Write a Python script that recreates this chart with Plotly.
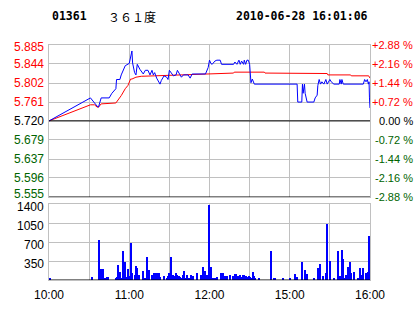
import plotly.graph_objects as go

# ---------------- data ----------------
base_price = 5.72
price_ticks = [5.555, 5.596, 5.637, 5.679, 5.720, 5.761, 5.802, 5.844, 5.885]
price_labels = ["5.555", "5.596", "5.637", "5.679", "5.720", "5.761", "5.802", "5.844", "5.885"]
pct_labels = ["-2.88 %", "-2.16 %", "-1.44 %", "-0.72 %", "0.00 %",
              "+0.72 %", "+1.44 %", "+2.16 %", "+2.88 %"]
vol_ticks = [350, 700, 1050, 1400]
vol_labels = ["350", "700", "1050", "1400"]
# session minutes: 10:00-12:30 -> 0..150, 14:30-16:00 -> 150..240
time_grid = [0, 30, 60, 90, 120, 150, 180, 210, 240]
time_labels = ["10:00", "", "11:00", "", "12:00", "", "15:00", "", "16:00"]

# last price (session minute, price)
blue_min = [0, 31, 36, 37, 39, 45, 47, 50, 50.5, 53, 54, 55.5, 57, 60, 61, 62, 62.5, 64, 65, 66,
            68, 70.5, 72, 74, 75.5, 77, 78, 79, 80.5, 83, 84, 86, 88, 89, 90, 92, 93, 95, 96, 98,
            99, 100.5, 104, 105.5, 107, 117, 119, 120, 121, 122, 124, 125.5, 128, 129, 138, 139,
            140.5, 142, 143, 144, 145.5, 146, 147, 148, 149, 150, 150.5, 151, 152, 153.5, 185.5,
            186, 189, 189.5, 190, 191, 191.5, 192, 193, 198, 199, 200.5, 201, 202, 203, 204, 205.5,
            207, 208, 210, 211, 213, 217, 217.5, 218.5, 219, 220, 235, 236, 237, 238, 238.8, 239.3,
            239.6, 240]
blue_px = [5.72, 5.77, 5.752, 5.75, 5.77, 5.77, 5.78, 5.79, 5.81, 5.81, 5.82, 5.83, 5.84, 5.845,
           5.86, 5.872, 5.846, 5.825, 5.82, 5.843, 5.832, 5.822, 5.83, 5.83, 5.82, 5.83, 5.82,
           5.825, 5.813, 5.80, 5.808, 5.818, 5.815, 5.81, 5.83, 5.82, 5.818, 5.82, 5.83, 5.82,
           5.815, 5.82, 5.82, 5.813, 5.822, 5.822, 5.836, 5.852, 5.845, 5.843, 5.85, 5.852, 5.852,
           5.843, 5.843, 5.848, 5.843, 5.852, 5.843, 5.85, 5.843, 5.852, 5.843, 5.852, 5.852,
           5.843, 5.808, 5.803, 5.811, 5.80, 5.80, 5.761, 5.761, 5.80, 5.78, 5.80, 5.78, 5.77,
           5.761, 5.761, 5.77, 5.776, 5.797, 5.81, 5.80, 5.805, 5.80, 5.81, 5.80, 5.81, 5.805,
           5.80, 5.80, 5.81, 5.80, 5.81, 5.80, 5.80, 5.81, 5.805, 5.81, 5.80, 5.805, 5.77, 5.748]

# average price
red_min = [0, 31, 34, 36, 37, 39, 50, 52, 54, 57, 59, 61, 62, 65, 69, 79, 118, 119, 138, 138.5,
           161, 161.5, 190.5, 191, 208, 208.5, 225.5, 226, 239, 240]
red_px = [5.72, 5.755, 5.755, 5.75, 5.75, 5.757, 5.759, 5.766, 5.775, 5.79, 5.797, 5.811, 5.811,
          5.815, 5.817, 5.818, 5.822, 5.823, 5.824, 5.826, 5.826, 5.824, 5.824, 5.823, 5.823,
          5.82, 5.82, 5.818, 5.818, 5.813]

# volume (session minute, volume)
vol_min = [1, 32, 37.5, 38.5, 39, 40.5, 42, 43.5, 44.5, 50, 50.5, 51.5, 52.3, 53, 54, 55.5, 56.3,
           57, 57.7, 59, 59.6, 60.4, 61.5, 62.3, 64.5, 65.3, 66, 67.5, 70.5, 72, 73.5, 75, 77.3,
           78, 78.7, 79.5,
           80.3, 81, 82.5, 83.3, 86.3, 88.5, 89.3, 90, 90.8, 91.5, 92.3, 93, 93.8, 94.5, 95.3, 96,
           96.8, 97.5, 98.3, 99, 100.5, 101.3, 102, 103.5, 105, 106.5, 107.3, 108, 111, 113.3,
           115.5, 116.3, 117, 118.5, 119.3, 120, 121.5, 123, 123.8, 125.3, 128.3, 129, 129.8,
           130.5, 131.3, 132, 132.8, 135, 137.3, 138, 138.8, 139.5, 140.3, 141, 142.5, 144, 144.8,
           145.5, 147, 147.8, 149.3, 150, 150.8, 152.3, 153, 153.8, 156.8,
           165.8, 168.2, 169.3, 175.3, 180.2, 184.3, 185.8, 189.5, 191.3, 192.8, 198.2, 201.2,
           202.3, 204.8, 206.8, 207.8, 209.8, 213.2, 216.2, 217.3, 219.2, 220, 221.5, 222.2,
           223.3, 224.3, 225.2, 226, 227.8, 231.2, 232.3, 233.8, 234.8, 236.8, 237.8, 238.6,
           239.4, 240]
vol_val = [42, 60, 735, 60, 203, 203, 42, 60, 60, 42, 60, 275, 60, 150, 42, 527, 96, 330, 60, 203,
           78, 60, 688, 132, 96, 257, 221, 96, 167, 42, 418, 185, 96, 60, 132, 132,
           132, 132, 132, 60, 78, 42, 78, 132, 60, 418, 60, 96, 60, 78, 132, 96, 78, 78, 60, 42,
           96, 167, 42, 96, 42, 96, 60, 78, 132, 96, 240, 60, 167, 96, 1376, 96, 240, 42, 42, 60,
           132, 78, 132, 60, 78, 42, 78, 96, 78, 42, 114, 114, 60, 78, 96, 60, 96, 96, 78, 60, 78,
           60, 42, 150, 78, 42, 42,
           527, 42, 42, 42, 42, 114, 60, 330, 185, 114, 42, 221, 293, 78, 132, 1030, 347, 42, 527,
           78, 545, 383, 42, 96, 240, 60, 330, 132, 150, 42, 221, 96, 221, 132, 60, 150, 815, 510]

stock_code = "01361"
stock_name = "３６１度"
timestamp = "2010-06-28 16:01:06"

# ---------------- styling ----------------
GRID = "#C0C0C0"
RED = "#FF0000"
GREEN = "#006400"
BLUE = "#0000FF"
FONT = "Liberation Sans, Arial, sans-serif"
W, H = 414, 314
ML, MR, MT, MB = 49, 44, 45, 26
plot_h = H - MT - MB
price_dom = [(H - MB - 202) / plot_h, 1.0]
vol_dom = [0.0, (H - MB - 209.5) / plot_h]

fig = go.Figure()
fig.add_trace(go.Bar(x=vol_min, y=vol_val, width=0.8, marker=dict(color=BLUE, line=dict(width=0)),
                     xaxis="x2", yaxis="y2", hoverinfo="skip"))
fig.add_trace(go.Scatter(x=red_min, y=red_px, mode="lines", line=dict(color=RED, width=1),
                         xaxis="x", yaxis="y", hoverinfo="skip"))
fig.add_trace(go.Scatter(x=blue_min, y=blue_px, mode="lines", line=dict(color=BLUE, width=1),
                         xaxis="x", yaxis="y", hoverinfo="skip"))

axis_common = dict(showgrid=True, gridcolor=GRID, gridwidth=1, zeroline=False, ticks="",
                   showline=True, linecolor=GRID, linewidth=1, mirror=True, fixedrange=True)
fig.update_layout(
    width=W, height=H, margin=dict(l=ML, r=MR, t=MT, b=MB),
    paper_bgcolor="white", plot_bgcolor="white", showlegend=False,
    xaxis=dict(domain=[0, 1], range=[0, 240], tickmode="array", tickvals=time_grid,
               showticklabels=False, anchor="y", **axis_common),
    yaxis=dict(domain=price_dom, range=[price_ticks[0], price_ticks[-1]], tickmode="array",
               tickvals=price_ticks, showticklabels=False, anchor="x", **axis_common),
    xaxis2=dict(domain=[0, 1], range=[0, 240], tickmode="array", tickvals=time_grid,
                ticktext=time_labels, tickfont=dict(family=FONT, size=12, color="black"),
                ticklabelstandoff=4, anchor="y2", **axis_common),
    yaxis2=dict(domain=vol_dom, range=[0, 1400], tickmode="array", tickvals=vol_ticks,
                showticklabels=False, anchor="x2", **axis_common),
    bargap=0,
)

shapes = [
    dict(type="line", xref="x", yref="y", x0=0, x1=240, y0=base_price, y1=base_price,
         line=dict(color="black", width=1)),
    dict(type="line", xref="x", yref="y", x0=0, x1=240, y0=price_ticks[0], y1=price_ticks[0],
         line=dict(color="black", width=1)),
    dict(type="line", xref="x2", yref="y2", x0=0, x1=240, y0=0, y1=0,
         line=dict(color="black", width=1)),
]
fig.update_layout(shapes=shapes)

ann = []
n = len(price_ticks)
for i, (v, lab, pl) in enumerate(zip(price_ticks, price_labels, pct_labels)):
    if v > base_price + 1e-9:
        col = RED
    elif v < base_price - 1e-9:
        col = GREEN
    else:
        col = "black"
    ys = 3 if i == 0 else (-2 if i == n - 1 else 0)
    ann.append(dict(xref="paper", yref="y", x=0, y=v, xanchor="right", yanchor="middle",
                    xshift=-4, yshift=ys, text=lab, showarrow=False, borderpad=0,
                    font=dict(family=FONT, size=12, color=col)))
    ann.append(dict(xref="paper", yref="y", x=1, y=v, xanchor="right", yanchor="middle",
                    xshift=MR, text=pl, showarrow=False, borderpad=0,
                    font=dict(family=FONT, size=11, color=col)))
for v, lab in zip(vol_ticks, vol_labels):
    ann.append(dict(xref="paper", yref="y2", x=0, y=v, xanchor="right", yanchor="middle",
                    xshift=-4, yshift=-3, text=lab, showarrow=False, borderpad=0,
                    font=dict(family=FONT, size=12, color="black")))

ty = (H - MB - 15.5) / plot_h
ann.append(dict(xref="paper", yref="paper", x=(50 - ML) / (W - ML - MR), y=ty, xanchor="left",
                yanchor="middle", text="<b>" + stock_code + "</b>", showarrow=False,
                font=dict(family="DejaVu Sans Mono, monospace", size=11.5, color="black")))
ann.append(dict(xref="paper", yref="paper", x=(106 - ML) / (W - ML - MR), y=ty, xanchor="left",
                yanchor="middle", text=stock_name, showarrow=False,
                font=dict(family="Noto Sans CJK SC", size=12, color="black")))
ann.append(dict(xref="paper", yref="paper", x=(370 - ML) / (W - ML - MR), y=ty, xanchor="right",
                yanchor="middle", text="<b>" + timestamp + "</b>", showarrow=False,
                font=dict(family="DejaVu Sans Mono, monospace", size=11.5, color="black")))
fig.update_layout(annotations=ann)

fig.write_html("out.html", config={"displayModeBar": False})
